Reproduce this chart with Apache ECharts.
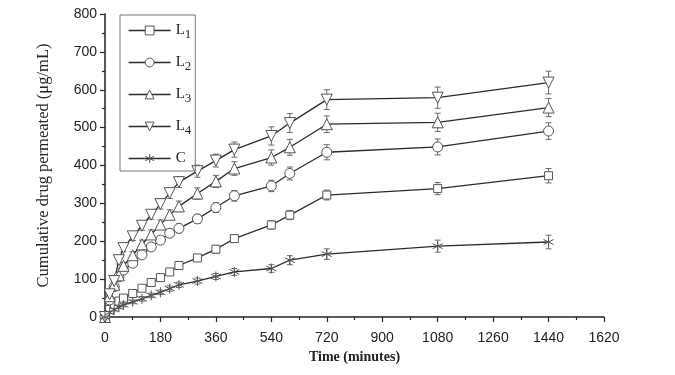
<!DOCTYPE html>
<html>
<head>
<meta charset="utf-8">
<script src="https://cdn.jsdelivr.net/npm/echarts@6/dist/echarts.min.js"></script>
<style>html,body{margin:0;padding:0;background:#fff}#c{width:675px;height:375px}</style>
</head>
<body>
<div id="c"></div>
<script>
var times = [0, 15, 30, 45, 60, 90, 120, 150, 180, 210, 240, 300, 360, 420, 540, 600, 720, 1080, 1440];
var xTicks = [0, 180, 360, 540, 720, 900, 1080, 1260, 1440, 1620];
var yTicks = [0, 100, 200, 300, 400, 500, 600, 700, 800];

var L1 = [0, 20, 33, 42, 50, 62, 76, 91, 104, 119, 136, 156, 179, 207, 243, 269, 322, 339, 373];
var L1err = [0, 3, 4, 5, 5, 6, 6, 7, 7, 8, 8, 9, 10, 10, 11, 12, 13, 16, 19];
var L2 = [0, 45, 80, 106, 124, 142, 164, 185, 203, 221, 234, 259, 289, 320, 346, 379, 435, 449, 491];
var L2err = [0, 4, 5, 6, 7, 8, 9, 10, 10, 11, 12, 12, 13, 14, 15, 17, 20, 21, 22];
var L3 = [0, 55, 85, 110, 135, 163, 192, 218, 244, 270, 292, 326, 358, 392, 421, 448, 509, 514, 553];
var L3err = [0, 4, 6, 8, 9, 10, 11, 12, 12, 13, 14, 15, 16, 18, 20, 21, 22, 24, 24];
var L4 = [0, 60, 95, 150, 182, 213, 241, 270, 298, 327, 356, 385, 413, 442, 478, 512, 574, 579, 619];
var L4err = [0, 5, 8, 10, 10, 11, 12, 12, 13, 14, 14, 16, 17, 20, 24, 25, 26, 28, 30];
var C = [0, 12, 20, 26, 32, 40, 48, 57, 65, 75, 85, 95, 107, 119, 128, 150, 166, 187, 198];
var Cerr = [0, 3, 4, 4, 5, 5, 6, 6, 6, 7, 7, 8, 8, 9, 10, 12, 14, 16, 18];

var names = ['L1', 'L2', 'L3', 'L4', 'C'];
var values = [L1, L2, L3, L4, C];
var errs = [L1err, L2err, L3err, L4err, Cerr];
var symbols = [
  'rect', 'circle', 'triangle',
  'path://M0,0L10,0L5,8.66Z',
  'path://M5,0L5,10M0.67,2.5L9.33,7.5M0.67,7.5L9.33,2.5'
];
var sizes = [8, 10, 11, 11, 10];

var SERIF = 'Liberation Serif';
var SANS = 'Arial';

var chart = echarts.init(document.getElementById('c'), null, {renderer: 'canvas'});
var series = [];
names.forEach(function (n, i) {
  var errData = times.map(function (t, k) { return [t, values[i][k] - errs[i][k], values[i][k] + errs[i][k]]; });
  series.push({
    type: 'custom',
    name: n + '_err',
    z: 1,
    silent: true,
    data: errData,
    renderItem: function (params, api) {
      var x = api.value(0);
      var lo = api.coord([x, api.value(1)]);
      var hi = api.coord([x, api.value(2)]);
      if (Math.abs(hi[1] - lo[1]) < 1) return null;
      var w = 3;
      var st = {stroke: '#6a6a6a', lineWidth: 1};
      return {
        type: 'group',
        children: [
          {type: 'line', shape: {x1: lo[0], y1: lo[1], x2: hi[0], y2: hi[1]}, style: st},
          {type: 'line', shape: {x1: lo[0] - w, y1: lo[1], x2: lo[0] + w, y2: lo[1]}, style: st},
          {type: 'line', shape: {x1: hi[0] - w, y1: hi[1], x2: hi[0] + w, y2: hi[1]}, style: st}
        ]
      };
    }
  });
});
names.forEach(function (n, i) {
  series.push({
    type: 'line',
    name: n,
    z: 3,
    data: times.map(function (t, k) { return [t, values[i][k]]; }),
    symbol: symbols[i],
    symbolSize: sizes[i],
    showAllSymbol: true,
    lineStyle: {color: '#2a2a2a', width: 1.3},
    itemStyle: {color: i === 4 ? 'none' : '#fff', borderColor: '#555', borderWidth: 1},
    emphasis: {disabled: true},
    animation: false
  });
});

var legendRich = {
  a: {fontFamily: SERIF, fontSize: 15, color: '#222'},
  b: {fontFamily: SERIF, fontSize: 13, color: '#222', padding: [8, 0, 0, 0]}
};

chart.setOption({
  animation: false,
  backgroundColor: '#fff',
  textStyle: {fontFamily: SANS},
  grid: {left: 105, right: 71, top: 14, bottom: 58, containLabel: false},
  legend: {
    data: names,
    orient: 'vertical',
    left: 120,
    top: 15,
    itemWidth: 42,
    itemHeight: 11,
    itemGap: 14,
    padding: [8, 4, 5, 8],
    borderColor: '#777',
    borderWidth: 1,
    selectedMode: false,
    formatter: function (n) {
      if (n === 'C') return '{a|C}';
      return '{a|L}{b|' + n.slice(1) + '}';
    },
    textStyle: {rich: legendRich, padding: [0, 0, 0, 0]},
    itemStyle: {color: '#fff', borderColor: '#555', borderWidth: 1},
    lineStyle: {color: '#2a2a2a', width: 1.3}
  },
  xAxis: {
    type: 'value',
    min: 0, max: 1620, interval: 180,
    name: 'Time (minutes)',
    nameLocation: 'middle',
    nameGap: 27,
    nameTextStyle: {fontFamily: SERIF, fontWeight: 'bold', fontSize: 14, color: '#222'},
    axisLine: {lineStyle: {color: '#222', width: 1.5}},
    axisTick: {show: true, length: 5, inside: false, lineStyle: {color: '#222', width: 1.2}},
    minorTick: {show: true, splitNumber: 2, length: 3, lineStyle: {color: '#222', width: 1.2}},
    axisLabel: {fontFamily: SANS, fontSize: 14, color: '#222', margin: 14,
      formatter: function (v) { return xTicks.indexOf(v) >= 0 ? String(v) : ''; }},
    splitLine: {show: false}
  },
  yAxis: {
    type: 'value',
    min: 0, max: 800, interval: 100,
    name: 'Cumulative drug permeated (μg/mL)',
    nameLocation: 'middle',
    nameGap: 53,
    nameTextStyle: {fontFamily: SERIF, fontSize: 16.5, color: '#222'},
    axisLine: {show: true, lineStyle: {color: '#222', width: 1.5}},
    axisTick: {show: true, length: 5, inside: false, lineStyle: {color: '#222', width: 1.2}},
    minorTick: {show: true, splitNumber: 2, length: 3, lineStyle: {color: '#222', width: 1.2}},
    axisLabel: {fontFamily: SANS, fontSize: 14, color: '#222', margin: 8,
      formatter: function (v) { return yTicks.indexOf(v) >= 0 ? String(v) : ''; }},
    splitLine: {show: false}
  },
  series: series
});
</script>
</body>
</html>
